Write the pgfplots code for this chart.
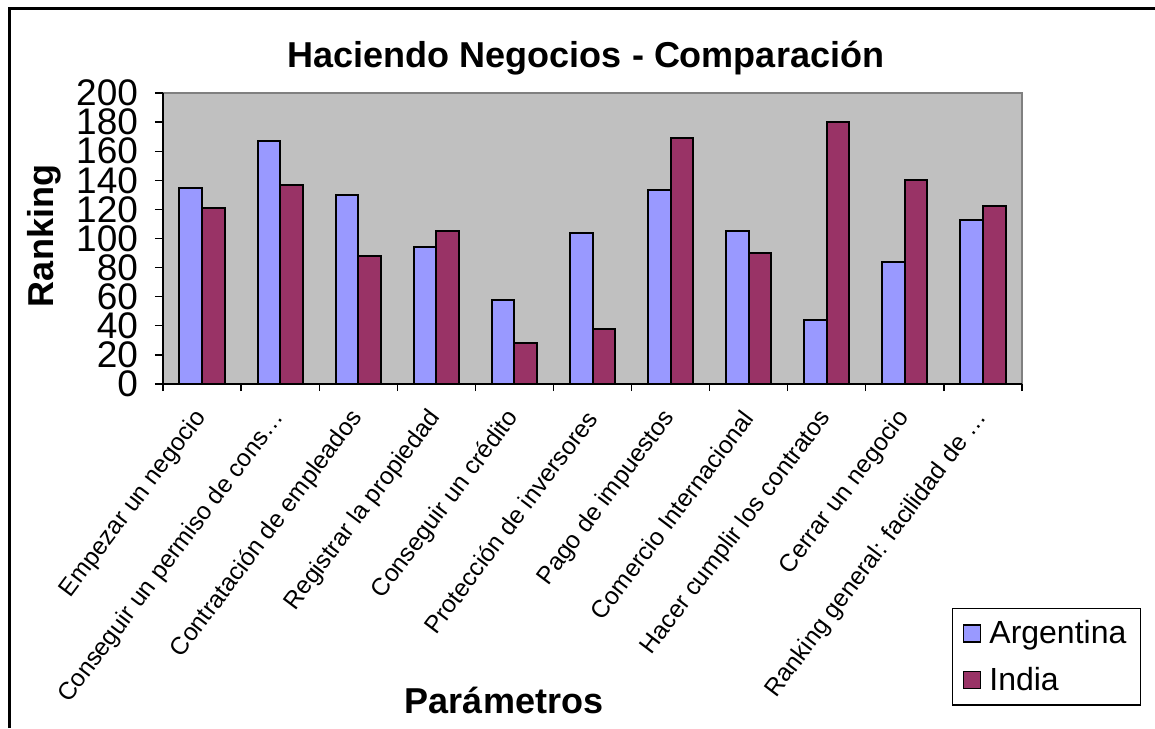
\documentclass[border=0pt]{standalone}
\usepackage{pgfplots}
\pgfplotsset{compat=1.18}
\usepackage{fontspec}
\setmainfont{Liberation Sans}
\definecolor{argcol}{HTML}{9999FF}
\definecolor{indcol}{HTML}{993366}
\definecolor{plotbg}{HTML}{C0C0C0}
\definecolor{framegray}{HTML}{808080}

\begin{document}
\begin{tikzpicture}[x=0.5pt,y=0.5pt]
% picture is 1155 x 728 px, 1px = 0.5pt
\useasboundingbox (0,0) rectangle (1155,728);
\draw[line width=1.5pt] (9,0) -- (9,719) -- (1155,719);

\begin{axis}[
    at={(81.5pt,172pt)}, anchor=south west,
    scale only axis,
    width=429.5pt, height=145.5pt,
    ybar=0pt, bar width=11.3pt,
    xmin=-0.5, xmax=10.5,
    ymin=0, ymax=200,
    ytick={0,20,...,200},
    xtick={0,...,10},
    xticklabels={
        {Empezar un negocio},
        {Conseguir un permiso de cons\ldots},
        {Contratación de empleados},
        {Registrar la propiedad},
        {Conseguir un crédito},
        {Protección de inversores},
        {Pago de impuestos},
        {Comercio Internacional},
        {Hacer cumplir los contratos},
        {Cerrar un negocio},
        {Ranking general: facilidad de \ldots}
    },
    minor xtick={-0.5,0.5,...,10.5},
    major x tick style={draw=none},
    minor tick length=3.5pt,
    major tick length=4pt,
    tick align=outside,
    tick style={black, line width=0.6pt},
    axis x line*=bottom, axis y line*=left,
    axis line style={black, line width=0.7pt},
    axis background/.style={fill=plotbg, draw=framegray, line width=1pt},
    /pgf/number format/assume math mode=true,
    yticklabel style={font=\fontsize{18.5}{19}\selectfont, xshift=-5pt},
    xticklabel style={font=\fontsize{12.3}{13}\selectfont, rotate=53, anchor=east, yshift=-6.4pt, xshift=-5.4pt},
    legend style={
        at={(0.9185,-0.77)}, anchor=north west,
        draw=black, line width=0.6pt,
        font=\fontsize{16}{18}\selectfont,
        row sep=6pt, inner xsep=5pt, inner ysep=4pt,
        legend cell align=left
    },
    legend image code/.code={
        \draw[#1, line width=0.8pt] (0pt,-4.25pt) rectangle (8.5pt,4.25pt);
        \path (10.5pt,0pt);
    },
]
\addplot[fill=argcol, draw=black, line width=1pt] coordinates {
    (0,135) (1,167) (2,130) (3,94) (4,58) (5,104)
    (6,133) (7,105) (8,44) (9,84) (10,113)
};
\addplot[fill=indcol, draw=black, line width=1pt] coordinates {
    (0,121) (1,137) (2,88) (3,105) (4,28) (5,38)
    (6,169) (7,90) (8,180) (9,140) (10,122)
};
\legend{Argentina, India}
\end{axis}

\node[font=\fontsize{18}{20}\selectfont\bfseries, anchor=base] at (586,660) {Haciendo Negocios - Comparación};
\node[font=\fontsize{18}{20}\selectfont\bfseries, anchor=base, rotate=90] at (53,492) {Ranking};
\node[font=\fontsize{18}{20}\selectfont\bfseries, anchor=base] at (504,15) {Parámetros};
\end{tikzpicture}
\end{document}
